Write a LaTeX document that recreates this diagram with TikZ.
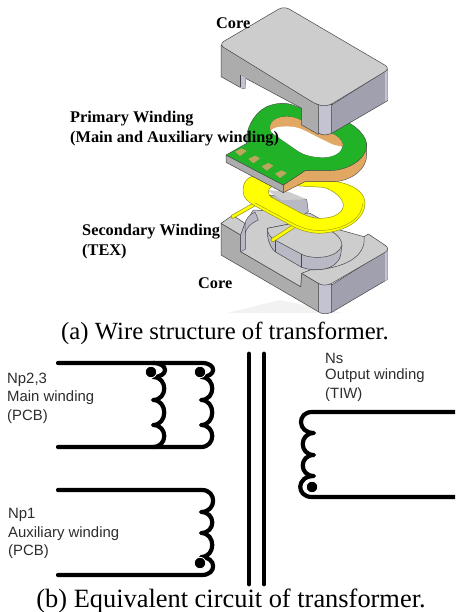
\documentclass[tikz,border=0pt]{standalone}
\usepackage{fontspec}
\setmainfont{Liberation Serif}
\setsansfont{Liberation Sans}
\definecolor{coreTop}{RGB}{205,205,205}
\definecolor{coreLeft}{RGB}{172,172,172}
\definecolor{coreRight}{RGB}{160,160,175}
\definecolor{coreEdge}{RGB}{195,195,210}
\definecolor{coreIn}{RGB}{185,185,198}
\definecolor{pcbGreen}{RGB}{34,178,40}
\definecolor{copper}{RGB}{224,168,98}
\definecolor{padTan}{RGB}{190,165,95}
\definecolor{ringYellow}{RGB}{255,255,0}
\definecolor{ringEdge}{RGB}{150,150,20}
\definecolor{lineGray}{RGB}{70,70,75}
\definecolor{sansGray}{RGB}{45,45,45}
\newcommand{\bR}[3]{.. controls (#1+15,#2) and (#1+15,#3) .. (#1,#3)}
\newcommand{\bL}[3]{.. controls (#1-15,#2) and (#1-15,#3) .. (#1,#3)}
\tikzset{
  solid3d/.style={draw=lineGray,line width=0.5pt,line join=round},
  wire/.style={line width=4.2pt,line cap=round,line join=round},
  bar/.style={line width=4.8pt,line cap=round},
  dotmark/.style={circle,fill=black,draw=white,line width=0.8pt,inner sep=0pt,minimum size=11.5pt},
  bold3d/.style={font=\bfseries\fontsize{16.3}{18}\selectfont,anchor=west,inner sep=0pt},
  sanslabel/.style={font=\sffamily\fontsize{14.9}{17}\selectfont,text=sansGray,anchor=west,inner sep=0pt},
  captionA/.style={font=\fontsize{24.7}{27}\selectfont,anchor=center,inner sep=0pt},
  captionB/.style={font=\fontsize{26.4}{29}\selectfont,anchor=center,inner sep=0pt},
}
\begin{document}
\begin{tikzpicture}[x=1pt,y=-1pt]
\useasboundingbox (0,0) rectangle (455,612);
\fill[white] (0,0) rectangle (455,612);
% shadow
\fill[black!5] (227,313) -- (280,300) -- (343,313) -- cycle;
% ---------- lower core
\begin{scope}[shift={(210,190)},x=0.33333pt,y=-0.33333pt]
  \filldraw[coreLeft,solid3d] (33,100) -- (33,195) -- (325,365) -- (325,280) -- (275,250) -- (272,290) -- (92,185) -- (92,135) -- cycle;
  \filldraw[coreRight,solid3d] (365,285) -- (365,367) -- (533,268) -- (533,178) -- cycle;
  \filldraw[coreEdge,solid3d] (325,280) -- (325,365) .. controls (335,373) and (350,373) .. (365,367) -- (365,283) -- cycle;
  \fill[coreEdge] (525,183) -- (533,178) -- (533,268) -- (525,273) -- cycle;
  \filldraw[coreTop,solid3d] (92,185) -- (272,290) -- (275,250) -- (325,280) .. controls (335,287) and (352,287) .. (365,280) -- (527,186) .. controls (535,180) and (535,172) .. (527,167) -- (475,132) -- (462,140) -- (390,120) -- (300,70) -- (130,60) -- (105,100) -- (92,135) -- cycle;
  \filldraw[coreTop,solid3d] (33,100) -- (68,76) -- (105,100) -- (92,135) -- cycle;
  \filldraw[coreIn,draw=lineGray,line width=0.4pt] (92,135) -- (92,185) -- (106,178) -- (106,105) -- (105,100) -- cycle;
  \filldraw[coreIn,draw=lineGray,line width=0.4pt] (106,128) .. controls (110,112) and (125,98) .. (145,90) -- (135,66) .. controls (118,74) and (105,88) .. (105,105) -- cycle;
  \draw[lineGray,line width=0.5pt] (462,140) .. controls (470,200) and (400,238) .. (300,240) -- (275,250);
  % back piece of the core seen through the ring
  \filldraw[coreIn,draw=lineGray,line width=0.4pt] (178,15) -- (290,28) -- (295,65) -- (280,75) -- (230,60) -- cycle;
  \fill[coreTop] (170,0) -- (235,5) -- (290,28) -- (215,30) -- cycle;
  % centre post
  \filldraw[coreIn,solid3d] (172,115) .. controls (170,140) and (178,170) .. (195,185) -- (275,232) .. controls (310,245) and (380,245) .. (392,195) -- (396,165) -- (300,90) -- cycle;
  \filldraw[coreTop,solid3d] (172,115) .. controls (172,130) and (180,142) .. (195,150) -- (275,193) .. controls (310,210) and (385,205) .. (396,165) .. controls (395,150) and (385,135) .. (365,125) -- (300,90) -- cycle;
  \draw[lineGray,line width=0.4pt] (195,150) -- (195,185) (275,193) -- (275,232);
  % wires
  \coordinate (w1a) at (130,45); \coordinate (w1b) at (68,80);
  \coordinate (w2a) at (250,110); \coordinate (w2b) at (188,150);
  \draw[ringEdge,line width=4pt,line cap=round] (w1a) -- (w1b);
  \draw[ringEdge,line width=4pt,line cap=round] (w2a) -- (w2b);
  \draw[ringYellow,line width=2.6pt,line cap=round] (w1a) -- (w1b);
  \draw[ringYellow,line width=2.6pt,line cap=round] (w2a) -- (w2b);
  % secondary ring
  \filldraw[ringYellow,draw=ringEdge,line width=0.5pt,even odd rule]
    (100,10) .. controls (95,-25) and (115,-45) .. (150,-45) -- (300,-28) .. controls (400,-35) and (465,-5) .. (465,40) .. controls (465,80) and (420,125) .. (330,130) .. controls (300,130) and (270,120) .. (250,110) -- (130,45) .. controls (115,35) and (102,25) .. (100,10) -- cycle
    (175,5) .. controls (175,-10) and (190,-15) .. (215,-15) -- (340,-8) .. controls (370,0) and (400,25) .. (400,45) .. controls (400,70) and (370,85) .. (330,85) .. controls (305,85) and (285,75) .. (270,68) -- (185,22) .. controls (178,18) and (175,12) .. (175,5) -- cycle;
  \draw[ringEdge,line width=0.4pt] (458,40) .. controls (458,78) and (415,118) .. (330,122) .. controls (300,122) and (272,112) .. (252,102) -- (134,38);
\end{scope}
% ---------- primary PCB
\begin{scope}[shift={(220,100)},x=0.33333pt,y=-0.33333pt]
  \filldraw[coreLeft,solid3d] (18,165) -- (18,187) -- (190,278) -- (190,255) -- cycle;
  \filldraw[copper,draw=lineGray,line width=0.4pt] (190,255) -- (190,278) -- (255,245) -- (345,245) .. controls (400,240) and (440,205) .. (440,165) -- (440,130) -- (330,200) -- (255,212) -- cycle;
  \filldraw[pcbGreen,draw=lineGray,line width=0.4pt,even odd rule]
    (18,165) -- (80,130) .. controls (75,90) and (100,40) .. (140,20) .. controls (170,8) and (200,5) .. (230,20) -- (380,65) .. controls (420,85) and (440,115) .. (440,135) .. controls (440,175) and (390,210) .. (330,212) -- (255,212) -- (190,255) -- cycle
    (150,85) .. controls (150,60) and (175,50) .. (200,50) .. controls (230,50) and (250,65) .. (270,75) -- (345,105) .. controls (360,115) and (368,125) .. (368,135) .. controls (368,155) and (340,172) .. (310,172) .. controls (280,172) and (250,165) .. (230,150) -- (165,105) .. controls (155,98) and (150,92) .. (150,85) -- cycle;
  \fill[copper] (150,85) .. controls (150,60) and (175,50) .. (200,50) .. controls (230,50) and (250,65) .. (270,75) -- (345,105) .. controls (360,115) and (368,125) .. (368,135) -- (367,140) -- (152,92) -- cycle;
  \fill[white] (152,92) .. controls (160,80) and (190,78) .. (215,80) .. controls (240,82) and (260,95) .. (280,105) -- (345,137) .. controls (355,142) and (365,145) .. (367,140) .. controls (365,157) and (340,172) .. (310,172) .. controls (280,172) and (250,165) .. (230,150) -- (165,105) .. controls (158,100) and (153,97) .. (152,92) -- cycle;
  \foreach \i in {0,1,2,3}{
    \fill[padTan] ({45+40*\i},{155+22*\i}) -- ({65+40*\i},{145+22*\i}) -- ({80+40*\i},{153+22*\i}) -- ({60+40*\i},{168+22*\i}) -- cycle;
  }
\end{scope}
% ---------- upper core
\begin{scope}[shift={(210,10)},x=0.33333pt,y=-0.33333pt]
  \filldraw[coreLeft,solid3d] (33,105) -- (33,200) -- (90,232) .. controls (95,236) and (102,236) .. (105,235) -- (107,205) -- (275,295) -- (275,345) -- (325,373) -- (325,285) -- cycle;
  \fill[coreEdge] (90,195) -- (107,205) -- (105,235) .. controls (102,236) and (95,236) .. (90,232) -- cycle;
  \draw[lineGray,line width=0.4pt] (90,195) -- (90,232);
  \filldraw[coreRight,solid3d] (365,285) -- (365,370) -- (533,272) -- (533,178) -- cycle;
  \fill[coreEdge] (525,183) -- (533,178) -- (533,270) -- (525,275) -- cycle;
  \filldraw[coreEdge,solid3d] (325,283) -- (325,368) .. controls (335,377) and (350,376) .. (365,370) -- (365,283) -- cycle;
  \filldraw[coreTop,solid3d,rounded corners=6pt] (26,103) -- (222,-12) -- (541,175) -- (352,290) -- (320,284) -- cycle;
\end{scope}
% ---------- labels on the exploded view
\node[bold3d] (coreUp) at (216,23) {Core};
\node[bold3d] (prim1) at (70,119) {Primary Winding};
\node[bold3d] (prim2) at (70,139) {(Main and Auxiliary winding)};
\node[bold3d] (sec1) at (82,232) {Secondary Winding};
\node[bold3d] (sec2) at (82,252) {(TEX)};
\node[bold3d] (coreLow) at (198,283) {Core};
\node[captionA] (capA) at (225,333) {(a) Wire structure of transformer.};
% ---------- circuit
\coordinate (pTopL) at (58,363);
\coordinate (pTopR) at (202,363);
\coordinate (pBotL) at (58,447);
\coordinate (pBotR) at (202,447);
\draw[wire] (pTopL) -- (pTopR) .. controls (217,363) and (217,377) .. (201,377) \bR{201}{377}{400} \bR{201}{400}{425} \bR{201}{425}{447} -- (pBotL);
\draw[wire] (153,363) .. controls (169,363) and (169,377) .. (153,377) \bR{153}{377}{400} \bR{153}{400}{425} .. controls (168,425) and (168,447) .. (153,447);
\node[dotmark] (dotA) at (151,372) {};
\node[dotmark] (dotB) at (200,372) {};
\coordinate (aTopL) at (58,490);
\coordinate (aBotL) at (58,575);
\draw[wire] (aTopL) -- (202,490) .. controls (217,490) and (217,512) .. (201,512) \bR{201}{512}{533} \bR{201}{533}{557} .. controls (217,557) and (217,575) .. (202,575) -- (aBotL);
\node[dotmark] (dotC) at (200,563) {};
\coordinate (barATop) at (249,354);
\coordinate (barABot) at (249,584);
\coordinate (barBTop) at (264,354);
\coordinate (barBBot) at (264,584);
\draw[bar] (barATop) -- (barABot);
\draw[bar] (barBTop) -- (barBBot);
\coordinate (sTopR) at (455,412);
\coordinate (sBotR) at (455,497);
\draw[wire,line cap=butt] (sTopR) -- (312,412) .. controls (297,412) and (297,433) .. (314,433) \bL{314}{433}{455} \bL{314}{455}{476} .. controls (296,476) and (296,497) .. (312,497) -- (sBotR);
\node[dotmark] (dotD) at (312,487) {};
\node[sanslabel] (l1) at (7,380) {Np2,3};
\node[sanslabel] (l2) at (7,398) {Main winding};
\node[sanslabel] (l3) at (7,417) {(PCB)};
\node[sanslabel] (l4) at (8,515) {Np1};
\node[sanslabel] (l5) at (8,534) {Auxiliary winding};
\node[sanslabel] (l6) at (8,552) {(PCB)};
\node[sanslabel] (l7) at (325,358) {Ns};
\node[sanslabel] (l8) at (325,376) {Output winding};
\node[sanslabel] (l9) at (325,395) {(TIW)};
\node[captionB] (capB) at (231,601) {(b) Equivalent circuit of transformer.};
\end{tikzpicture}
\end{document}
